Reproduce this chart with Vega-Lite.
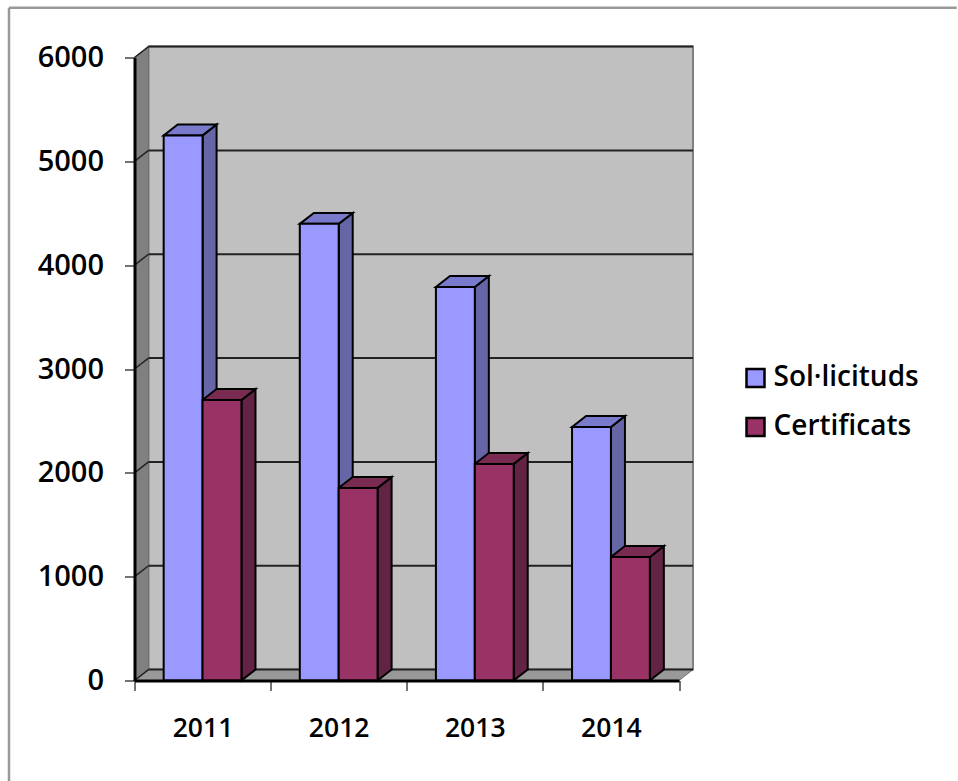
{
"$schema":"https://vega.github.io/schema/vega-lite/v6.json",
"width":544.5,"height":623,"autosize":{"type":"none"},
"padding":{"left":134.5,"top":57.5,"right":279,"bottom":100.5},
"background":"white",
"config":{"view":{"stroke":null},"font":"Open Sans"},
"data":{"values":[
{"year":2011,"series":"Sol·licituds","value":5250},
{"year":2011,"series":"Certificats","value":2702},
{"year":2012,"series":"Sol·licituds","value":4398},
{"year":2012,"series":"Certificats","value":1855},
{"year":2013,"series":"Sol·licituds","value":3790},
{"year":2013,"series":"Certificats","value":2086},
{"year":2014,"series":"Sol·licituds","value":2442},
{"year":2014,"series":"Certificats","value":1190}
]},
"transform":[
{"calculate":"datum.year-2011+(datum.series==='Certificats'?0.5:0.2143)","as":"x0"},
{"calculate":"datum.x0+0.2857","as":"x1"},
{"calculate":"[0,1]","as":"k"},
{"flatten":["k"]},
{"calculate":"datum.k*0.103","as":"dx"},
{"calculate":"datum.k*105","as":"dv"},
{"calculate":"datum.x1+datum.dx","as":"sx"},
{"calculate":"datum.value+datum.dv","as":"sy"},
{"calculate":"datum.x0+datum.dx","as":"tx"},
{"calculate":"datum.year+datum.series","as":"key"}
],
"layer":[
{"data":{"values":[{"k":0}]},
 "mark":{"type":"rect","fill":"#C0C0C0","stroke":"#808080","strokeWidth":2},
 "encoding":{
  "x":{"datum":0.103,"type":"quantitative","scale":{"domain":[0,4],"nice":false,"zero":false},
   "axis":{"title":null,"grid":false,"values":[0,1,2,3,4],"labelExpr":"datum.value<4?''+(2011+datum.value):''","labelOffset":68,"labelFlush":false,"labelOverlap":false,"labelFontSize":26.5,"labelColor":"#000","labelFont":"Open Sans","labelFontWeight":600,"labelPadding":25,"tickSize":10,"tickColor":"#444","tickWidth":1.5,"domainColor":"#000","domainWidth":3,"zindex":1,"labelAngle":0}},
  "x2":{"datum":4.103},
  "y":{"datum":105,"type":"quantitative","scale":{"domain":[0,6000],"nice":false,"zero":false},
   "axis":{"title":null,"grid":false,"values":[0,1000,2000,3000,4000,5000,6000],"format":"d","labelFontSize":29,"labelColor":"#000","labelFont":"Open Sans","labelFontWeight":600,"labelPadding":21,"labelFlush":false,"labelOverlap":false,"tickSize":10,"tickColor":"#444","tickWidth":1.5,"domainColor":"#000","domainWidth":3,"zindex":1}},
  "y2":{"datum":6105}
 }},
{"data":{"values":[{"k":0},{"k":1}]},
 "transform":[{"calculate":"datum.k*0.103","as":"dx"},{"calculate":"datum.k*105","as":"low"},{"calculate":"6000+datum.k*105","as":"high"}],
 "mark":{"type":"area","orient":"vertical","fill":"#808080","stroke":"#707070","strokeWidth":1},
 "encoding":{
  "x":{"field":"dx","type":"quantitative","scale":{"domain":[0,4],"nice":false,"zero":false}},
  "y":{"field":"low","type":"quantitative","stack":null,"scale":{"domain":[0,6000],"nice":false,"zero":false}},
  "y2":{"field":"high"}
 }},
{"data":{"values":[{"k":0},{"k":1}]},
 "transform":[{"calculate":"datum.k*0.103","as":"lx"},{"calculate":"4+datum.k*0.103","as":"rx"},{"calculate":"datum.k*105","as":"fy"}],
 "mark":{"type":"area","orient":"horizontal","fill":"#999999","stroke":"#707070","strokeWidth":1},
 "encoding":{
  "y":{"field":"fy","type":"quantitative","stack":null,"scale":{"domain":[0,6000],"nice":false,"zero":false}},
  "x":{"field":"lx","type":"quantitative","scale":{"domain":[0,4],"nice":false,"zero":false}},
  "x2":{"field":"rx"}
 }},
{"data":{"values":[{"level":0},{"level":1000},{"level":2000},{"level":3000},{"level":4000},{"level":5000},{"level":6000}]},
 "transform":[{"calculate":"datum.level+105","as":"up"}],
 "mark":{"type":"rule","stroke":"#222","strokeWidth":2},
 "encoding":{
  "x":{"datum":0.103,"type":"quantitative","scale":{"domain":[0,4],"nice":false,"zero":false}},
  "x2":{"datum":4.103},
  "y":{"field":"up","type":"quantitative","scale":{"domain":[0,6000],"nice":false,"zero":false}}
 }},
{"data":{"values":[{"level":0},{"level":1000},{"level":2000},{"level":3000},{"level":4000},{"level":5000},{"level":6000}]},
 "transform":[{"calculate":"datum.level+105","as":"up"}],
 "mark":{"type":"rule","stroke":"#222","strokeWidth":1.5},
 "encoding":{
  "x":{"datum":0,"type":"quantitative","scale":{"domain":[0,4],"nice":false,"zero":false}},
  "x2":{"datum":0.103},
  "y":{"field":"level","type":"quantitative","scale":{"domain":[0,6000],"nice":false,"zero":false}},
  "y2":{"field":"up"}
 }},
{"transform":[{"calculate":"datum.dv","as":"base"}],
 "mark":{"type":"area","orient":"vertical","stroke":"#000","strokeWidth":2},
 "encoding":{
  "x":{"field":"sx","type":"quantitative","scale":{"domain":[0,4],"nice":false,"zero":false}},
  "y":{"field":"sy","type":"quantitative","stack":null,"scale":{"domain":[0,6000],"nice":false,"zero":false}},
  "y2":{"field":"base"},
  "detail":{"field":"key"},
  "fill":{"condition":{"test":"datum.series==='Certificats'","value":"#632344"},"value":"#6666A6"}
 }},
{"transform":[{"calculate":"datum.x1+datum.dx","as":"rx"}],
 "mark":{"type":"area","orient":"horizontal","stroke":"#000","strokeWidth":2},
 "encoding":{
  "y":{"field":"sy","type":"quantitative","stack":null,"scale":{"domain":[0,6000],"nice":false,"zero":false}},
  "x":{"field":"tx","type":"quantitative","scale":{"domain":[0,4],"nice":false,"zero":false}},
  "x2":{"field":"rx"},
  "detail":{"field":"key"},
  "fill":{"condition":{"test":"datum.series==='Certificats'","value":"#7A2B52"},"value":"#7A7ACC"}
 }},
{"transform":[{"filter":"datum.k===0"}],
 "mark":{"type":"rect","stroke":"#000","strokeWidth":2},
 "encoding":{
  "x":{"field":"x0","type":"quantitative","scale":{"domain":[0,4],"nice":false,"zero":false}},
  "x2":{"field":"x1"},
  "y":{"field":"value","type":"quantitative","scale":{"domain":[0,6000],"nice":false,"zero":false}},
  "y2":{"datum":0},
  "fill":{"field":"series","type":"nominal","sort":null,
   "scale":{"domain":["Sol·licituds","Certificats"],"range":["#9999FF","#993366"]},
   "legend":{"title":null,"orient":"none","legendX":607,"legendY":307,"symbolType":"square","symbolSize":324,"symbolStrokeColor":"#000","symbolStrokeWidth":2.5,"labelFontSize":28,"labelFont":"Open Sans","labelFontWeight":600,"labelColor":"#000","labelOffset":4,"rowPadding":20,"clipHeight":27}}
 }},
{"data":{"values":[{"k":0}]},
 "mark":{"type":"rule","stroke":"#999999","strokeWidth":2.5},
 "encoding":{
  "x":{"datum":-0.922,"type":"quantitative","scale":{"domain":[0,4],"nice":false,"zero":false}},
  "x2":{"datum":6.04},
  "y":{"datum":6479,"type":"quantitative","scale":{"domain":[0,6000],"nice":false,"zero":false}}
 }},
{"data":{"values":[{"k":0}]},
 "mark":{"type":"rule","stroke":"#999999","strokeWidth":2.5},
 "encoding":{
  "x":{"datum":-0.922,"type":"quantitative","scale":{"domain":[0,4],"nice":false,"zero":false}},
  "y":{"datum":6479,"type":"quantitative","scale":{"domain":[0,6000],"nice":false,"zero":false}},
  "y2":{"datum":-968}
 }}
]
}
